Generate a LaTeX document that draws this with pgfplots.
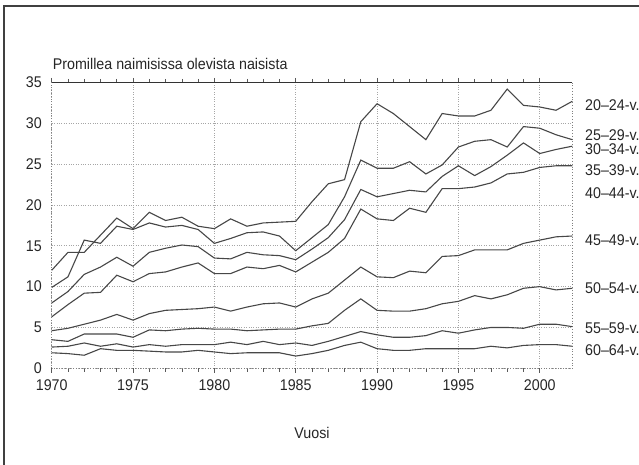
\documentclass[border=0pt]{standalone}
\usepackage{fontspec}
\setmainfont{Liberation Sans}[FakeStretch=0.92]
\usepackage{pgfplots}
\usepackage{pgfplotstable}
\pgfplotsset{compat=1.18}
% Divorces per 1000 married women, by age group
\pgfplotstableread{
year  a     b     c     d     e     f     g     h
1970  12.0  9.9   8.0   6.3   4.6   3.5   2.6   1.9
1971  14.2  11.2  9.4   7.8   4.9   3.3   2.7   1.8
1972  14.2  15.7  11.5  9.2   5.4   4.2   3.1   1.6
1973  16.3  15.3  12.4  9.3   5.9   4.2   2.7   2.4
1974  18.4  17.4  13.6  11.4  6.6   4.2   3.0   2.2
1975  17.1  17.0  12.5  10.6  5.9   3.8   2.6   2.2
1976  19.1  17.8  14.2  11.6  6.7   4.7   2.9   2.1
1977  18.1  17.3  14.7  11.8  7.1   4.6   2.7   2.0
1978  18.5  17.5  15.1  12.4  7.2   4.8   2.9   2.0
1979  17.4  17.0  14.9  12.9  7.3   4.9   2.9   2.2
1980  17.1  15.3  13.5  11.6  7.5   4.8   2.9   2.0
1981  18.3  15.9  13.4  11.6  7.0   4.8   3.2   1.8
1982  17.4  16.6  14.2  12.4  7.5   4.6   2.9   1.9
1983  17.8  16.7  13.9  12.2  7.9   4.7   3.3   1.9
1984  17.9  16.2  13.8  12.6  8.0   4.8   2.9   1.9
1985  18.0  14.4  13.3  11.8  7.5   4.8   3.1   1.5
1986  20.4  16.0  14.6  13.0  8.5   5.2   2.8   1.8
1987  22.6  17.6  16.0  14.2  9.2   5.5   3.3   2.2
1988  23.1  21.0  18.2  15.9  10.8  7.1   3.9   2.8
1989  30.2  25.5  21.9  19.5  12.4  8.5   4.5   3.2
1990  32.4  24.5  21.0  18.3  11.2  7.1   4.1   2.4
1991  31.2  24.5  21.4  18.1  11.1  7.0   3.8   2.2
1992  29.6  25.3  21.8  19.6  11.9  7.0   3.8   2.2
1993  28.0  23.8  21.6  19.1  11.7  7.3   4.0   2.4
1994  31.2  24.9  23.5  22.0  13.7  7.9   4.6   2.4
1995  30.9  27.1  24.8  22.0  13.8  8.2   4.3   2.4
1996  30.9  27.8  23.6  22.2  14.5  8.9   4.7   2.4
1997  31.6  28.0  24.7  22.7  14.5  8.5   5.0   2.7
1998  34.2  27.1  26.1  23.8  14.5  9.0   5.0   2.5
1999  32.2  29.6  27.6  24.0  15.3  9.8   4.9   2.8
2000  32.0  29.4  26.3  24.6  15.7  10.0  5.4   2.9
2001  31.6  28.6  26.8  24.8  16.1  9.6   5.4   2.9
2002  32.7  28.0  27.2  24.8  16.2  9.8   5.1   2.7
}\divtable
\pgfplotsset{divline/.style={black!72, line width=1.1pt, mark=none}}
\begin{document}
\fontsize{15.5pt}{17pt}\selectfont
\begin{tikzpicture}[x=1pt,y=1pt]
\useasboundingbox (0,0) rectangle (639,465);
\draw[line width=1.4pt, black!75] (4,0) -- (4,459) -- (639,459);
\begin{axis}[
  at={(51.7pt,96.7pt)}, anchor=south west,
  scale only axis, width=520.6pt, height=285.8pt,
  xmin=1970, xmax=2002, ymin=0, ymax=35,
  xtick={1970,1975,...,2000}, ytick={0,5,...,35},
  minor x tick num=4,
  grid=major,
  major grid style={black!35, dotted, line width=0.7pt},
  axis line style={black!50, dotted, line width=0.8pt},
  tick align=outside,
  major tick length=4.5pt, minor tick length=3.5pt,
  xtick style={black!65, solid, line width=0.7pt},
  minor x tick style={black!65, solid, line width=0.7pt},
  ytick style={draw=none},
  /pgf/number format/assume math mode=true,
  xticklabel style={/pgf/number format/1000 sep={}, yshift=-2pt},
  tick label style={font=\fontsize{15.5pt}{17pt}\selectfont, text=black!85},
  title={Promillea naimisissa olevista naisista},
  title style={at={(axis description cs:0,1)}, anchor=base west, inner sep=0pt, xshift=1pt, yshift=6.5pt, font=\fontsize{15.5pt}{17pt}\selectfont, text=black!85},
  xlabel={Vuosi},
  xlabel style={at={(axis description cs:0.5,0)}, anchor=center, yshift=-64.7pt, font=\fontsize{15.5pt}{17pt}\selectfont, text=black!85},
  clip=false,
]
\addplot[divline] table[x=year, y=a] {\divtable};
\addplot[divline] table[x=year, y=b] {\divtable};
\addplot[divline] table[x=year, y=c] {\divtable};
\addplot[divline] table[x=year, y=d] {\divtable};
\addplot[divline] table[x=year, y=e] {\divtable};
\addplot[divline] table[x=year, y=f] {\divtable};
\addplot[divline] table[x=year, y=g] {\divtable};
\addplot[divline] table[x=year, y=h] {\divtable};
\draw[black!80, line width=1.1pt] (axis cs:1970,35) -- (axis cs:2002,35);
\begin{scope}[every node/.style={anchor=west, xshift=12.7pt, inner sep=0pt, text=black!85, font=\fontsize{15.5pt}{17pt}\selectfont}]
\node at (axis cs:2002,32.2) {20–24-v.};
\node at (axis cs:2002,28.55) {25–29-v.};
\node at (axis cs:2002,26.8) {30–34-v.};
\node at (axis cs:2002,24.3) {35–39-v.};
\node at (axis cs:2002,21.4) {40–44-v.};
\node at (axis cs:2002,15.7) {45–49-v.};
\node at (axis cs:2002,9.8) {50–54-v.};
\node at (axis cs:2002,4.9) {55–59-v.};
\node at (axis cs:2002,2.2) {60–64-v.};
\end{scope}
\end{axis}
\end{tikzpicture}
\end{document}
